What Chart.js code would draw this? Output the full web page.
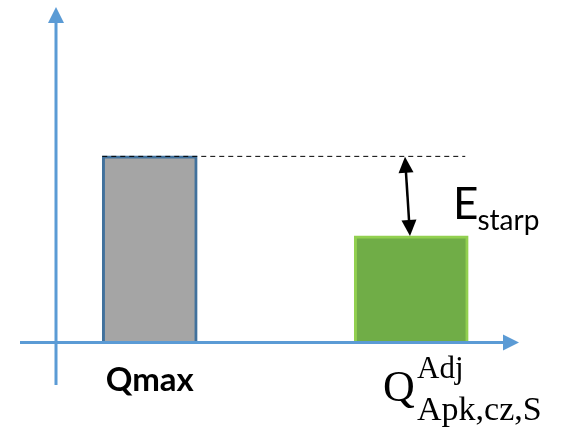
<!DOCTYPE html>
<html>
<head>
<meta charset="utf-8">
<script src="https://cdn.jsdelivr.net/npm/chart.js@4"></script>
<style>
html,body{margin:0;padding:0;background:#fff;}
#wrap{width:561px;height:428px;}
</style>
</head>
<body>
<div id="wrap"><canvas id="c" width="561" height="428"></canvas></div>
<script>
// ---- data ----
const categories = ["Qmax", "Q"];
const labelSup = ["", "Adj"];
const labelSub = ["", "Apk,cz,S"];
const qmaxValues = [100, null];
const adjValues = [null, 57];
const gapLabel = "E";
const gapLabelSub = "starp";
const yMin = 0;
const yMax = 173;

const decor = {
  id: 'decor',
  afterDatasetsDraw(chart) {
    const ctx = chart.ctx;
    const xs = chart.scales.x, ys = chart.scales.y;
    const axisCol = '#5b9bd5';
    const y0 = ys.getPixelForValue(0);
    const yTop = ys.getPixelForValue(qmaxValues[0]);
    const yAdj = ys.getPixelForValue(adjValues[1]);
    const bar0 = chart.getDatasetMeta(0).data[0];
    const bar1 = chart.getDatasetMeta(1).data[1];
    ctx.save();
    // dashed line
    ctx.strokeStyle = '#000';
    ctx.lineWidth = 1;
    ctx.setLineDash([5, 4]);
    ctx.beginPath();
    ctx.moveTo(bar0.x - bar0.width / 2, yTop + 0.5);
    ctx.lineTo(bar1.x + bar1.width / 2 - 3, yTop + 0.5);
    ctx.stroke();
    ctx.setLineDash([]);
    // axes
    const yAxisX = 56;
    ctx.strokeStyle = axisCol;
    ctx.fillStyle = axisCol;
    ctx.lineWidth = 3;
    ctx.beginPath();
    ctx.moveTo(yAxisX, 385);
    ctx.lineTo(yAxisX, 20);
    ctx.stroke();
    ctx.beginPath();
    ctx.moveTo(yAxisX, 7);
    ctx.lineTo(yAxisX - 8, 23);
    ctx.lineTo(yAxisX + 8, 23);
    ctx.closePath();
    ctx.fill();
    const ax = y0 + 0.5;
    ctx.beginPath();
    ctx.moveTo(20, ax);
    ctx.lineTo(506, ax);
    ctx.stroke();
    ctx.beginPath();
    ctx.moveTo(519, ax);
    ctx.lineTo(503, ax - 8);
    ctx.lineTo(503, ax + 8);
    ctx.closePath();
    ctx.fill();
    // double arrow
    const ax1 = 405, ay1 = yTop + 1, ax2 = 410, ay2 = yAdj;
    const ang = Math.atan2(ay2 - ay1, ax2 - ax1);
    ctx.strokeStyle = '#000';
    ctx.fillStyle = '#000';
    ctx.lineWidth = 2.5;
    ctx.beginPath();
    ctx.moveTo(ax1 + Math.cos(ang) * 12, ay1 + Math.sin(ang) * 12);
    ctx.lineTo(ax2 - Math.cos(ang) * 12, ay2 - Math.sin(ang) * 12);
    ctx.stroke();
    function head(x, y, a) {
      const L = 16, W = 7.5;
      ctx.beginPath();
      ctx.moveTo(x, y);
      ctx.lineTo(x - Math.cos(a) * L + Math.sin(a) * W, y - Math.sin(a) * L - Math.cos(a) * W);
      ctx.lineTo(x - Math.cos(a) * L - Math.sin(a) * W, y - Math.sin(a) * L + Math.cos(a) * W);
      ctx.closePath();
      ctx.fill();
    }
    head(ax2, ay2, ang);
    head(ax1, ay1, ang + Math.PI);
    // gap label
    ctx.textBaseline = 'alphabetic';
    ctx.textAlign = 'left';
    ctx.font = '44px Lato';
    ctx.fillText(gapLabel, 453, 219);
    const ew = ctx.measureText(gapLabel).width;
    ctx.font = '28px Lato';
    ctx.fillText(gapLabelSub, 453 + ew - 1, 230);
    // category labels
    ctx.font = 'bold 33px Lato';
    ctx.textAlign = 'center';
    ctx.fillText(categories[0], xs.getPixelForValue(0), 391);
    ctx.textAlign = 'left';
    ctx.font = '44px "Liberation Serif"';
    ctx.fillText(categories[1], 383, 401);
    ctx.font = '31px "Liberation Serif"';
    ctx.fillText(labelSup[1], 417, 378);
    ctx.font = '34px "Liberation Serif"';
    ctx.fillText(labelSub[1], 417, 420);
    ctx.restore();
  }
};

new Chart(document.getElementById('c'), {
  type: 'bar',
  data: {
    labels: categories,
    datasets: [
      {
        data: qmaxValues,
        backgroundColor: '#a5a5a5',
        borderColor: '#41719c',
        borderWidth: 3,
        borderSkipped: 'bottom',
        barThickness: 95,
        grouped: false
      },
      {
        data: adjValues,
        backgroundColor: '#70ad47',
        borderColor: '#92d050',
        borderWidth: 3,
        borderSkipped: 'bottom',
        barThickness: 114,
        grouped: false
      }
    ]
  },
  options: {
    responsive: false,
    devicePixelRatio: 1,
    animation: false,
    layout: { padding: { left: 19, right: 19, top: 20, bottom: 86 } },
    plugins: { legend: { display: false }, tooltip: { enabled: false } },
    scales: {
      x: { display: false, offset: true },
      y: { display: false, min: yMin, max: yMax }
    }
  },
  plugins: [decor]
});
</script>
</body>
</html>
